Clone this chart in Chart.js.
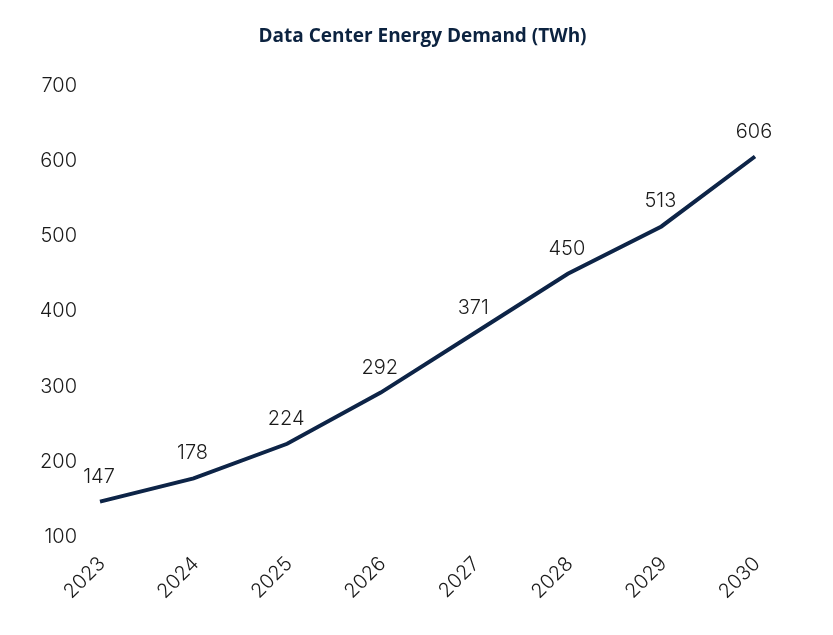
<!DOCTYPE html>
<html>
<head>
<meta charset="utf-8">
<script src="https://cdn.jsdelivr.net/npm/chart.js@4"></script>
<style>
html,body{margin:0;padding:0;background:#fff;}
#wrap{width:833px;height:635px;position:relative;}
</style>
</head>
<body>
<div id="wrap"><canvas id="c" width="833" height="635"></canvas></div>
<script>
const years = ['2023','2024','2025','2026','2027','2028','2029','2030'];
const demandTWh = [147, 178, 224, 292, 371, 450, 513, 606];
const yMin = 100, yMax = 700, yStep = 100;

const labelFont = "'Inter', 'Noto Sans', sans-serif";

const pointLabels = {
  id: 'pointLabels',
  afterDatasetsDraw(chart) {
    const ctx = chart.ctx;
    const meta = chart.getDatasetMeta(0);
    ctx.save();
    ctx.font = "300 20px " + labelFont;
    ctx.fillStyle = '#1a1a1a';
    ctx.textAlign = 'center';
    ctx.textBaseline = 'middle';
    meta.data.forEach((pt, i) => {
      ctx.fillText(String(chart.data.datasets[0].data[i]), pt.x - 1, pt.y - 25);
    });
    ctx.restore();
  }
};

new Chart(document.getElementById('c'), {
  type: 'line',
  data: {
    labels: years,
    datasets: [{
      data: demandTWh,
      borderColor: '#0d2447',
      borderWidth: 4,
      pointRadius: 0,
      tension: 0,
      fill: false
    }]
  },
  options: {
    responsive: false,
    animation: false,
    layout: { padding: { left: 12, right: 0, top: 0, bottom: 0 } },
    plugins: {
      legend: { display: false },
      tooltip: { enabled: false },
      title: {
        display: true,
        text: 'Data Center Energy Demand (TWh)',
        color: '#0c2340',
        font: { family: "'Open Sans', sans-serif", size: 19, weight: '700' },
        padding: { top: 25, bottom: 38 }
      }
    },
    scales: {
      x: {
        grid: { display: false, drawTicks: false },
        border: { display: false },
        ticks: {
          color: '#1a1a1a',
          font: { family: labelFont, size: 20, weight: '300' },
          minRotation: 45, maxRotation: 45,
          padding: 15,
          labelOffset: 2
        },
        afterFit(s) { s.height = 98; }
      },
      y: {
        min: yMin, max: yMax,
        grid: { display: false, drawTicks: false },
        border: { display: false },
        ticks: {
          stepSize: yStep,
          color: '#1a1a1a',
          font: { family: labelFont, size: 20, weight: '300' },
          padding: 23
        },
        afterFit(s) { s.width = 88; }
      },
      yRight: {
        position: 'right',
        display: true,
        min: yMin, max: yMax,
        grid: { display: false, drawTicks: false },
        border: { display: false },
        ticks: { display: false },
        afterFit(s) { s.width = 78; }
      }
    }
  },
  plugins: [pointLabels]
});
</script>
</body>
</html>
